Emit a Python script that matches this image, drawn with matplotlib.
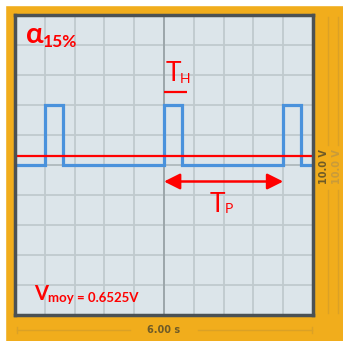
import matplotlib.pyplot as plt
import numpy as np

# signal: time in s (6.00 s across 10 div), level in divisions
t_edges = [0.0, 0.6, 0.96, 3.0, 3.36, 5.4, 5.76, 6.0]
v_level = [0.0, 2.0, 0.0, 2.0, 0.0, 2.0, 0.0, 0.0]
v_mean = 0.3
t_h = (3.0, 3.36)
t_p = (3.0, 5.4)

alpha_txt = "15%"
vmoy_txt = "moy = 0.6525V"
time_lbl = "6.00 s"
volt_lbl = "10.0 V"

W, H = 343, 341
orange = "#F1AD1C"
red = "#FF0000"
txtcol = "#6E5B28"

fig = plt.figure(figsize=(W / 100, H / 100), dpi=100)
fig.patch.set_facecolor(orange)


def fx(x):
    return x / W


def fy(y):
    return 1 - y / H


# white margins top / left
fig.patches.append(plt.Rectangle((0, fy(5)), 1, 5 / H, transform=fig.transFigure,
                                 color="white", zorder=0))
fig.patches.append(plt.Rectangle((0, 0), 5 / W, 1, transform=fig.transFigure,
                                 color="white", zorder=0))

ax = fig.add_axes([fx(15), fy(315), 298 / W, 300 / H])
ax.set_facecolor("#DCE5EA")
ax.set_xlim(0, 6)
ax.set_ylim(-5, 5)
ax.set_xticks(np.linspace(0, 6, 11))
ax.set_yticks(np.arange(-5, 6, 1))
ax.grid(color="#C0CACE", lw=1.3)
ax.axvline(3.0, color="#9AA4A8", lw=1.3)
ax.axhline(0.0, color="#B2BCC0", lw=1.3)
ax.tick_params(length=0, labelbottom=False, labelleft=False)
for s in ax.spines.values():
    s.set_color("#4B5154")
    s.set_linewidth(2.5)

ax.plot(t_edges, v_level, drawstyle="steps-post", color="#4A92DC", lw=2.3,
        solid_joinstyle="miter")
ax.axhline(v_mean, color=red, lw=1.6)

# T_H marker (drawn a little wider than the pulse, as on the screenshot)
ax.plot([t_h[0], t_h[1] + 0.1], [2.45, 2.45], color=red, lw=1.6, solid_capstyle="butt")
# T_P arrow
ax.annotate("", xy=(t_p[0], -0.55), xytext=(t_p[1], -0.55),
            arrowprops=dict(arrowstyle="<|-|>", color=red, lw=1.8,
                            mutation_scale=24, shrinkA=0, shrinkB=0))

font = "Lato"
fig.text(fx(26), fy(43), "α", color=red, fontsize=21, fontweight="bold", family=font)
fig.text(fx(43), fy(47), alpha_txt, color=red, fontsize=12.5, fontweight="bold", family=font)

fig.text(fx(166), fy(81), "T", color=red, fontsize=19, family=font)
fig.text(fx(180), fy(83), "H", color=red, fontsize=10, family=font)

fig.text(fx(210), fy(212), "T", color=red, fontsize=19, family=font)
fig.text(fx(225), fy(213), "P", color=red, fontsize=10, family=font)

fig.text(fx(34), fy(300), "V", color=red, fontsize=14.5, fontweight="bold", family=font)
fig.text(fx(48), fy(302), vmoy_txt, color=red, fontsize=9.5, fontweight="bold", family=font)

# frame labels
fig.text(fx(164), fy(330), time_lbl, color=txtcol, fontsize=7, fontweight="bold",
         ha="center", va="center", family="DejaVu Sans")
fig.text(fx(324), fy(167), volt_lbl, color=txtcol, fontsize=7, fontweight="bold",
         ha="center", va="center", rotation=90, family="DejaVu Sans")
fig.text(fx(337), fy(167), volt_lbl, color="#C99B3A", fontsize=7, fontweight="bold",
         ha="center", va="center", rotation=90, family="DejaVu Sans")

lc = "#DBA126"
for x0, x1 in [(17, 130), (198, 312)]:
    fig.add_artist(plt.Line2D([fx(x0), fx(x1)], [fy(330), fy(330)], color=lc, lw=1))
fig.add_artist(plt.Line2D([fx(17), fx(17)], [fy(327), fy(333)], color=lc, lw=1))
fig.add_artist(plt.Line2D([fx(312), fx(312)], [fy(327), fy(333)], color=lc, lw=1))
for xv in [328, 338]:
    for y0, y1 in [(17, 145), (190, 313)]:
        fig.add_artist(plt.Line2D([fx(xv), fx(xv)], [fy(y0), fy(y1)], color=lc, lw=1))

fig.savefig("out.png", dpi=100, facecolor=fig.get_facecolor())
